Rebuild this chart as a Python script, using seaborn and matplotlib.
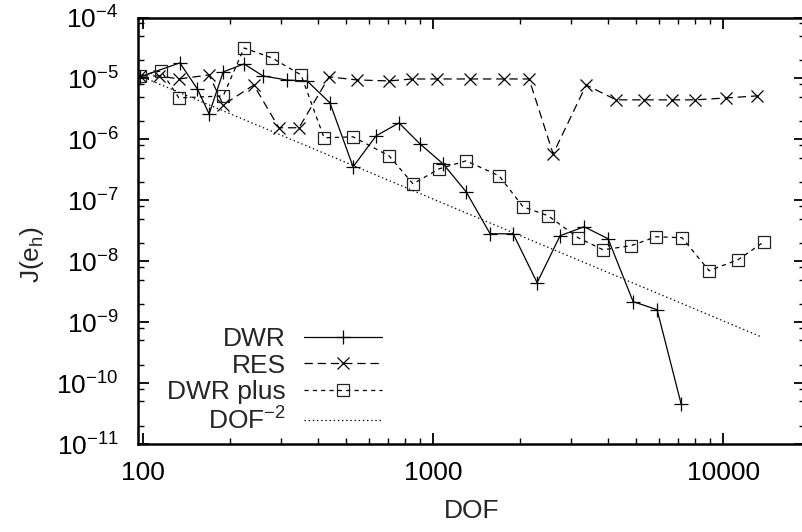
import numpy as np
import matplotlib
matplotlib.use("Agg")
import matplotlib.pyplot as plt
import seaborn as sns
from matplotlib.ticker import LogLocator, FuncFormatter

# values (log-log)
dwr_dof = [97.6, 134, 154, 169, 189, 223, 259, 314, 368, 441, 530, 636, 763, 902,
           1083, 1300, 1573, 1888, 2284, 2741, 3316, 4012, 4894, 5921, 7160]
dwr_err = [1.06e-5, 1.80e-5, 6.7e-6, 2.62e-6, 1.28e-5, 1.73e-5, 1.10e-5, 9.4e-6, 9.1e-6,
           3.97e-6, 3.54e-7, 1.14e-6, 1.86e-6, 8.4e-7, 3.96e-7, 1.38e-7, 2.82e-8, 2.82e-8,
           4.45e-9, 2.62e-8, 3.68e-8, 2.34e-8, 2.17e-9, 1.6e-9, 4.6e-11]

res_dof = [97.6, 113.5, 133, 169, 189, 241, 294, 345, 438, 547, 705, 846, 1032, 1341,
           1757, 2143, 2593, 3371, 4276, 5341, 6671, 8006, 10240, 13100]
res_err = [1.10e-5, 1.10e-5, 9.8e-6, 1.14e-5, 3.68e-6, 7.8e-6, 1.55e-6, 1.55e-6, 1.06e-5,
           9.45e-6, 9.1e-6, 9.8e-6, 9.8e-6, 9.8e-6, 9.8e-6, 9.8e-6, 5.78e-7, 7.8e-6,
           4.45e-6, 4.45e-6, 4.45e-6, 4.45e-6, 4.78e-6, 5.17e-6]

plus_dof = [97.6, 115.4, 133, 189, 223, 278.5, 350.6, 421, 530, 705, 853, 1049, 1300,
            1689, 2043, 2493, 3162, 3857, 4817, 5875, 7220, 8947, 11264, 13848]
plus_err = [1.10e-5, 1.33e-5, 4.79e-6, 5.16e-6, 3.16e-5, 2.17e-5, 1.14e-5, 1.06e-6,
            1.10e-6, 5.37e-7, 1.86e-7, 3.28e-7, 4.44e-7, 2.52e-7, 7.82e-8, 5.57e-8,
            2.43e-8, 1.54e-8, 1.80e-8, 2.52e-8, 2.43e-8, 6.98e-9, 1.06e-8, 2.09e-8]

ref_dof = [97.6, 13620]
ref_err = [1.10e-5, 5.66e-10]

labels = ["DWR", "RES", "DWR plus", "DOF$^{\\mathregular{-2}}$"]

sns.set_theme(style="ticks")
plt.rcParams["font.family"] = ["Liberation Sans", "DejaVu Sans"]
plt.rcParams["mathtext.fontset"] = "custom"
plt.rcParams["mathtext.rm"] = "Liberation Sans"
plt.rcParams["mathtext.it"] = "Liberation Sans:italic"
plt.rcParams["mathtext.bf"] = "Liberation Sans:bold"
plt.rcParams["mathtext.sf"] = "Liberation Sans"
plt.rcParams["axes.unicode_minus"] = False
plt.rcParams["lines.scale_dashes"] = False

fig = plt.figure(figsize=(8.03, 5.32), dpi=100)
ax = fig.add_axes([138 / 803, 1 - 444 / 532, (805.5 - 138) / 803, (444 - 17.5) / 532])
ax.set_xscale("log")
ax.set_yscale("log")

lw = 0.9
sns.lineplot(x=dwr_dof, y=dwr_err, ax=ax, color="black", lw=lw, marker="+", ms=10,
             mew=0.9, mec="black", linestyle="-", label=labels[0], sort=False,
             estimator=None)
sns.lineplot(x=res_dof, y=res_err, ax=ax, color="black", lw=lw, marker="x", ms=9,
             mew=0.9, mec="black", linestyle=(0, (6, 3.5)), label=labels[1], sort=False,
             estimator=None)
sns.lineplot(x=plus_dof, y=plus_err, ax=ax, color="black", lw=lw, marker="s", ms=9,
             mew=0.9, mfc="none", mec="#222222", linestyle=(0, (3, 3)), label=labels[2],
             sort=False, estimator=None)
sns.lineplot(x=ref_dof, y=ref_err, ax=ax, color="black", lw=lw, linestyle=(0, (1, 2)),
             label=labels[3], sort=False, estimator=None)

ax.set_xlim(96.1, 19230)
ax.set_ylim(1e-11, 1e-4)

ax.xaxis.set_major_locator(LogLocator(base=10, numticks=20))
ax.xaxis.set_minor_locator(LogLocator(base=10, subs=np.arange(2, 10), numticks=20))
ax.yaxis.set_major_locator(LogLocator(base=10, numticks=20))
ax.yaxis.set_minor_locator(LogLocator(base=10, subs=[2, 5, 8], numticks=20))
ax.xaxis.set_major_formatter(FuncFormatter(lambda v, p: f"{v:.0f}"))

ax.tick_params(which="both", direction="in", top=True, right=True, colors="black",
               labelsize=19)
ax.tick_params(which="major", length=8, width=1.3)
ax.tick_params(which="minor", length=4.5, width=1.0)
ax.tick_params(axis="x", which="major", pad=12)
ax.tick_params(axis="y", which="major", pad=14)
for s in ax.spines.values():
    s.set_linewidth(1.8)
    s.set_color("black")

ax.set_xlabel("DOF", fontsize=19, labelpad=10)
ax.set_ylabel("J(e$_{\\mathregular{h}}$)", fontsize=19)
ax.yaxis.set_label_coords(-0.138, 0.445)

ax.legend(ax.get_lines()[:4], labels, loc="upper right",
          bbox_to_anchor=(382 / 803, 1 - 327 / 532), bbox_transform=fig.transFigure,
          markerfirst=False, frameon=False, handlelength=2.95, handletextpad=0.68,
          labelspacing=0.1, borderpad=0, borderaxespad=0, fontsize=19)

fig.savefig("out.png", dpi=100)
